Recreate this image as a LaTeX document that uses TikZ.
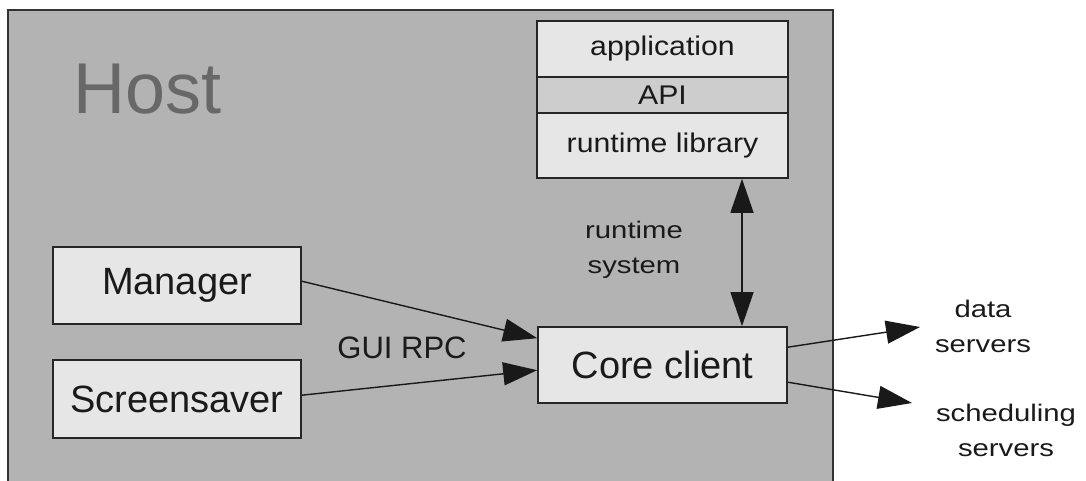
\documentclass[tikz,border=0pt]{standalone}
\usepackage{fontspec}
\setmainfont{Liberation Sans}
\newfontfamily\widefont{Liberation Sans}[FakeStretch=1.22]
\newfontfamily\stackfont{Liberation Sans}[FakeStretch=1.12]
\usetikzlibrary{arrows.meta,calc}
\definecolor{hostgray}{HTML}{B3B3B3}
\definecolor{boxgray}{HTML}{E6E6E6}
\definecolor{apigray}{HTML}{CDCDCD}
\definecolor{hosttext}{HTML}{686868}
\definecolor{txt}{HTML}{1A1A1A}
\tikzset{
  box/.style={draw=black!85, line width=1.6pt, fill=boxgray, inner sep=0pt, text=txt},
  big/.style={font=\fontsize{38}{42}\selectfont},
  stk/.style={font=\stackfont\fontsize{27}{30}\selectfont},
  lbl/.style={text=txt, align=center, font=\widefont\fontsize{24}{35}\selectfont},
  conn/.style={line width=1.4pt, draw=black!90, -{Triangle[length=34pt,width=23pt]}},
  dconn/.style={line width=1.4pt, draw=black!90, {Triangle[length=34pt,width=23pt]}-{Triangle[length=34pt,width=23pt]}}
}
\begin{document}
\begin{tikzpicture}[x=1pt,y=-1pt]
\useasboundingbox (0,0) rectangle (1086,481);
\fill[white] (0,0) rectangle (1086,481);
\begin{scope}
\clip (0,0) rectangle (1086,481);
\draw[fill=hostgray, draw=black!80, line width=1.6pt] (8,10) rectangle (833,500);
\end{scope}
\node[anchor=base west, text=hosttext, font=\fontsize{72}{80}\selectfont, inner sep=0pt] (host) at (73,114) {Host};
% application stack
\node[box, minimum width=251pt, minimum height=56pt, stk] (app) at (662.5,49) {application};
\node[box, fill=apigray, minimum width=251pt, minimum height=36pt, stk] (api) at (662.5,95) {API};
\node[box, minimum width=251pt, minimum height=65pt, stk] (rtl) at (662.5,145.5) {runtime library};
% left boxes
\node[box, minimum width=248pt, minimum height=77pt, big] (man) at (177,285.5) {Manager};
\node[box, minimum width=248pt, minimum height=78pt, big] (scr) at (177,399) {Screensaver};
\node[box, minimum width=249pt, minimum height=76pt, big] (core) at (662.5,365) {Core client};
% labels
\node[lbl] (rts) at (634,249.5) {runtime\\system};
\node[text=txt, font=\fontsize{31}{35}\selectfont] (gui) at (402,348) {GUI RPC};
\node[lbl] (data) at (983,326) {data\\servers};
\node[lbl] (sched) at (1006,430.5) {scheduling\\servers};
% connector end points
\coordinate (dtip) at (920,327);
\coordinate (stip) at (912,403);
% connectors
\draw[conn] ($(man.north east)+(0,35)$) -- ($(core.north west)+(0,12)$);
\draw[conn] ($(scr.north east)+(0,36)$) -- ($(core.north west)+(0,44)$);
\draw[dconn] (rtl.south -| 742,0) -- (core.north -| 742,0);
\draw[conn] ($(core.north east)+(0,21)$) -- (dtip);
\draw[conn] ($(core.north east)+(0,56)$) -- (stip);
\end{tikzpicture}
\end{document}
